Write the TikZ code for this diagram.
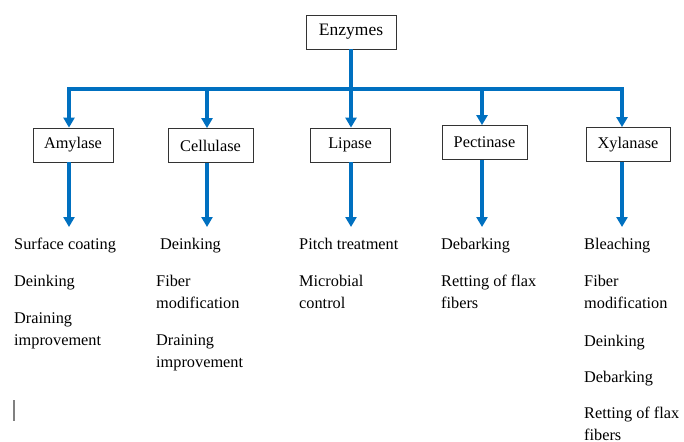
\documentclass[tikz,border=0pt]{standalone}
\usepackage{fontspec}
\setmainfont{LiberationSerif}[Extension=.ttf, UprightFont=*-Regular, BoldFont=*-Bold, ItalicFont=*-Italic, BoldItalicFont=*-BoldItalic]
\usetikzlibrary{arrows.meta}
\definecolor{ablue}{RGB}{0,112,192}
\tikzset{
  ebox/.style={draw=black!80, line width=0.8pt, fill=white, minimum height=34pt, inner sep=0pt, font=\rmfamily\fontsize{16.3}{20}\selectfont},
  arr/.style={ablue, line width=3.6pt, -{Triangle[length=10pt,width=11pt]}},
  bar/.style={ablue, line width=3.6pt},
  item/.style={anchor=base west, inner sep=0pt, font=\rmfamily\fontsize{16.3}{20}\selectfont},
}
\begin{document}
\begin{tikzpicture}[x=1pt,y=-1pt]
\useasboundingbox (0,0) rectangle (684,441);
% boxes
\node[ebox, minimum width=90pt, font=\rmfamily\fontsize{17.5}{20}\selectfont] (enz) at (351,32) {Enzymes};
\node[ebox, minimum width=80pt] (amy) at (73,145) {Amylase};
\node[ebox, minimum width=85pt] (cel) at (210.5,145.5) {Cellulase};
\node[ebox, minimum width=80pt] (lip) at (350,145) {Lipase};
\node[ebox, minimum width=85pt] (pec) at (484.5,142.5) {Pectinase};
\node[ebox, minimum width=84pt] (xyl) at (628,144.5) {Xylanase};
% bar coordinates
\coordinate (j) at (351,89);
\coordinate (b1) at (69,89);
\coordinate (b2) at (207,89);
\coordinate (b3) at (351,89);
\coordinate (b4) at (482,89);
\coordinate (b5) at (622,89);
\coordinate (e1) at (69,227);
\coordinate (e2) at (207,227);
\coordinate (e3) at (351,227);
\coordinate (e4) at (482,227);
\coordinate (e5) at (622,227);
\draw[bar] (enz.south) -- (j);
\draw[bar, line cap=butt] ([xshift=-1.8pt]b1) -- ([xshift=1.8pt]b5);
\draw[arr] (b1) -- (b1 |- amy.north);
\draw[arr] (b2) -- (b2 |- cel.north);
\draw[arr] (b3) -- (b3 |- lip.north);
\draw[arr] (b4) -- (b4 |- pec.north);
\draw[arr] (b5) -- (b5 |- xyl.north);
\draw[arr] (amy.south -| e1) -- (e1);
\draw[arr] (cel.south -| e2) -- (e2);
\draw[arr] (lip.south -| e3) -- (e3);
\draw[arr] (pec.south -| e4) -- (e4);
\draw[arr] (xyl.south -| e5) -- (e5);
% column 1
\node[item] (a1) at (14,249.5) {Surface coating};
\node[item] (a2) at (14,286.5) {Deinking};
\node[item] (a3) at (14,323.5) {Draining};
\node[item] (a4) at (14,345) {improvement};
% column 2
\node[item] (c1) at (160,249.5) {Deinking};
\node[item] (c2) at (156,286.5) {Fiber};
\node[item] (c3) at (156,308) {modification};
\node[item] (c4) at (156,345.5) {Draining};
\node[item] (c5) at (156,367) {improvement};
% column 3
\node[item] (l1) at (299,249.5) {Pitch treatment};
\node[item] (l2) at (299,286.5) {Microbial};
\node[item] (l3) at (299,308) {control};
% column 4
\node[item] (p1) at (441,249.5) {Debarking};
\node[item] (p2) at (441,286.5) {Retting of flax};
\node[item] (p3) at (441,308) {fibers};
% column 5
\node[item] (x1) at (584,249.5) {Bleaching};
\node[item] (x2) at (584,286.5) {Fiber};
\node[item] (x3) at (584,308) {modification};
\node[item] (x4) at (584,346) {Deinking};
\node[item] (x5) at (584,382.5) {Debarking};
\node[item] (x6) at (584,418.5) {Retting of flax};
\node[item] (x7) at (584,440) {fibers};
% cursor mark
\draw[gray, line width=1.2pt] (14,400) -- (14,421);
\end{tikzpicture}
\end{document}
